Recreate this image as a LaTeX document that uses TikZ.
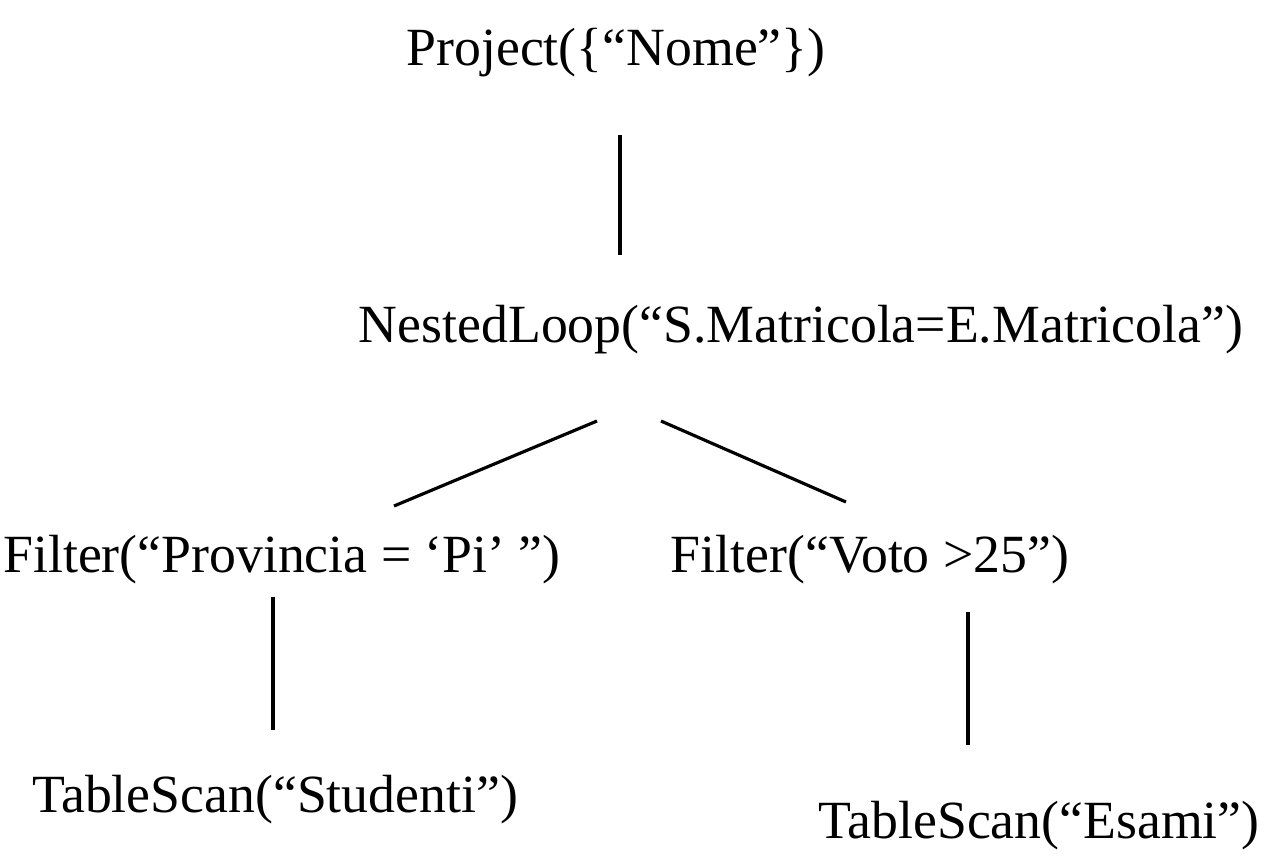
\documentclass[tikz,border=0pt]{standalone}
\usepackage{fontspec}
\setmainfont{Liberation Serif}
\usepackage{tikz}
\usetikzlibrary{calc}
\usetikzlibrary{positioning}

\tikzset{
	op/.style={anchor=base, inner sep=0pt, font=\fontsize{30.6}{35}\selectfont},
	edge/.style={line width=1.8pt}
}

\begin{document}
\begin{tikzpicture}[x=0.02cm, y=-0.02cm]
		\useasboundingbox (0,0) rectangle (1272,860);
		\node[op] (proj) at (616,65) {Project(\{“Nome”\})};
		\node[op] (loop) at (801,342) {NestedLoop(“S.Matricola=E.Matricola”)};
		\node[op] (filtS) at (282,572) {Filter(“Provincia = ‘Pi’ ”)};
		\node[op] (filtE) at (870,572) {Filter(“Voto >25”)};
		\node[op] (scanS) at (275,812) {TableScan(“Studenti”)};
		\node[op] (scanE) at (1039,838) {TableScan(“Esami”)};
		% tree edges
		\draw[edge] ($(proj.base)+(4,70)$) -- ($(loop.base)+(-181,-87)$);
		\draw[edge] ($(loop.base)+(-204,79)$) -- ($(filtS.base)+(112,-66)$);
		\draw[edge] ($(loop.base)+(-140,79)$) -- ($(filtE.base)+(-24,-70)$);
		\draw[edge] ($(filtS.base)+(-9,25)$) -- ($(scanS.base)+(-2,-82)$);
		\draw[edge] ($(filtE.base)+(98,40)$) -- ($(scanE.base)+(-71,-93)$);
	\end{tikzpicture}
\end{document}
